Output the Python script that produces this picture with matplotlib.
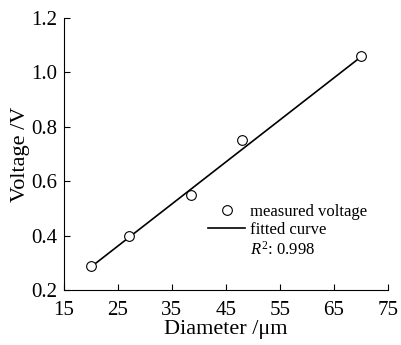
import matplotlib
matplotlib.use("Agg")
import matplotlib.pyplot as plt

# measured points
diameter = [20, 27, 38.5, 48, 70]
voltage = [0.29, 0.40, 0.55, 0.75, 1.06]

# fitted line end points
fit_x = [20, 70]
fit_y = [0.285, 1.057]

x_ticks = [15, 25, 35, 45, 55, 65, 75]
y_ticks = [0.2, 0.4, 0.6, 0.8, 1.0, 1.2]

plt.rcParams['font.family'] = ['Liberation Serif', 'DejaVu Serif']
plt.rcParams['mathtext.fontset'] = 'custom'
plt.rcParams['mathtext.rm'] = 'Liberation Serif'
plt.rcParams['mathtext.it'] = 'Liberation Serif:italic'

fig = plt.figure(figsize=(4.02, 3.45), dpi=100)
ax = fig.add_axes([0.159, 0.159, 0.806, 0.789])

ax.plot(diameter, voltage, linestyle='none', marker='o', markersize=7,
        markerfacecolor='white', markeredgecolor='black', markeredgewidth=0.8,
        label="measured voltage", zorder=3)
ax.plot(fit_x, fit_y, color='black', linewidth=1.2, label="fitted curve", zorder=2)

ax.set_xlim(15, 75)
ax.set_ylim(0.2, 1.2)
ax.set_xticks(x_ticks)
ax.set_yticks(y_ticks)
ax.set_yticklabels([f"{v:.1f}" for v in y_ticks])
ax.tick_params(direction='in', length=4, width=0.8, labelsize=15)
ax.tick_params(axis='x', pad=8)
ax.tick_params(axis='y', pad=4.5)
ax.spines['top'].set_visible(False)
ax.spines['right'].set_visible(False)
for s in ['left', 'bottom']:
    ax.spines[s].set_linewidth(0.8)

ax.set_xlabel("Diameter /μm", fontsize=16, labelpad=0)
ax.set_ylabel("Voltage /V", fontsize=16, labelpad=1)

leg = ax.legend(loc='upper left', bbox_to_anchor=(0.42, 0.347), frameon=False,
                fontsize=12, handlelength=2.2, handletextpad=0.3,
                labelspacing=0.1, borderpad=0)
ax.text(0.575, 0.15, "$R^2$: 0.998", transform=ax.transAxes, fontsize=12,
        ha='left', va='center')

fig.savefig("out.png", dpi=100)
